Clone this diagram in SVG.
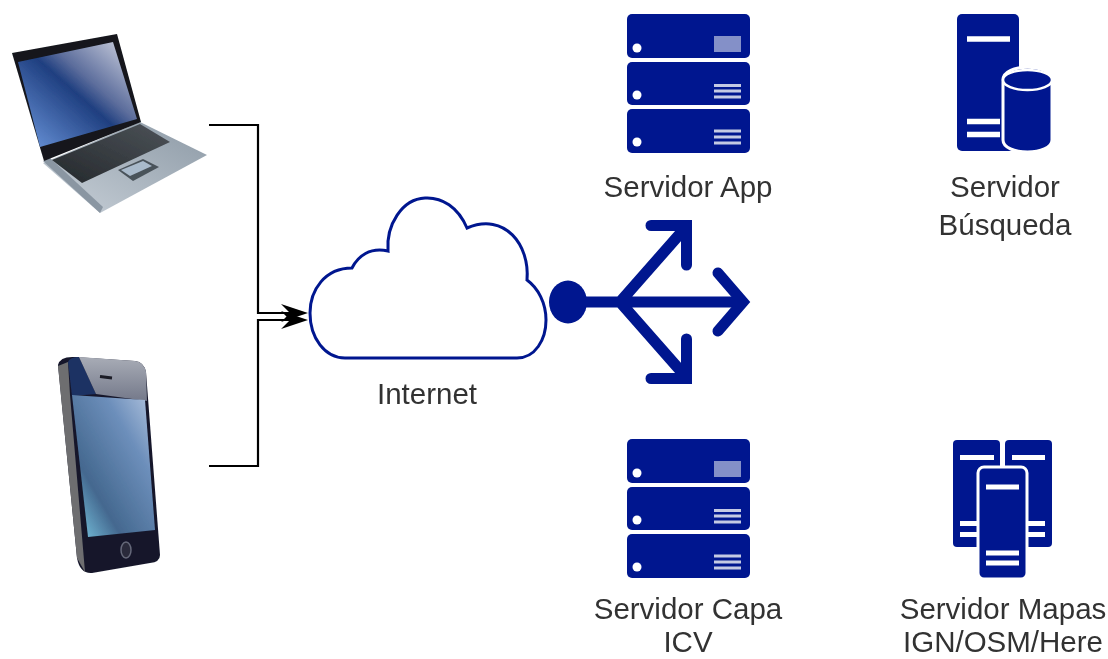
<svg xmlns="http://www.w3.org/2000/svg" width="1108" height="659" viewBox="0 0 1108 659">
<style>
.b{fill:#00188f}
.w{fill:#fff}
.ol{stroke:#fff;stroke-width:3}
text{font-family:"Liberation Sans",Arial,sans-serif;font-size:29.500px;fill:#333;text-anchor:middle}
.c{fill:none;stroke:#000;stroke-width:2.200}
</style>
<defs>
<linearGradient id="scr" x1="0" y1="1" x2="1" y2="0"><stop offset="0" stop-color="#6f9ae0"/><stop offset=".5" stop-color="#1f3f80"/><stop offset=".62" stop-color="#5c6d9c"/><stop offset="1" stop-color="#d8dbe6"/></linearGradient>
<linearGradient id="base" x1="0" y1="1" x2="1" y2="0"><stop offset="0" stop-color="#c8d0d8"/><stop offset="1" stop-color="#8d9aa6"/></linearGradient>
<linearGradient id="kb" x1="0" y1="1" x2="1" y2="0"><stop offset="0" stop-color="#24282c"/><stop offset="1" stop-color="#4c5258"/></linearGradient>
<linearGradient id="ph" x1="0" y1="1" x2="1" y2="0"><stop offset="0" stop-color="#7fd0ea"/><stop offset=".3" stop-color="#44688f"/><stop offset=".7" stop-color="#6d8fbb"/><stop offset="1" stop-color="#b4c6e0"/></linearGradient>
<linearGradient id="gl" x1="0" y1="0" x2="0" y2="1"><stop offset="0" stop-color="#a8acb6"/><stop offset="1" stop-color="#74798a"/></linearGradient>
<filter id="soft" filterUnits="userSpaceOnUse" x="0" y="0" width="1108" height="659"><feGaussianBlur stdDeviation=".55"/></filter>
<filter id="sb" x="-5%" y="-5%" width="110%" height="110%"><feGaussianBlur stdDeviation=".7"/></filter>
<g id="srv">
<rect class="b" x="627" y="14" width="123" height="44" rx="5"/>
<rect class="b" x="627" y="62" width="123" height="43" rx="5"/>
<rect class="b" x="627" y="109" width="123" height="44" rx="5"/>
<circle class="w" cx="637" cy="48" r="4.500"/><circle class="w" cx="637" cy="95" r="4.500"/><circle class="w" cx="637" cy="142" r="4.500"/>
<rect x="714" y="36" width="27" height="16" fill="#8490c8"/>
<path d="M714 85.500h27M714 91h27M714 97h27M714 131h27M714 137h27M714 143h27" stroke="#c4cae4" stroke-width="3"/>
</g>
</defs>

<g filter="url(#soft)">
<g id="connectors">
<path class="c" d="M209 125H258V313H296"/>
<path class="c" d="M209 466H258V320H296"/>
<path d="M281 304L308 313L281 322L290 313Z"/>
<path d="M281 311L308 320L281 329L290 320Z"/>
</g>

<g id="laptop" filter="url(#sb)">
<path d="M43 163L100 213L207 155L140 122Z" fill="url(#base)"/>
<path d="M43 161L100 213L103 207L50 158Z" fill="#8a96a2"/>
<path d="M12 53L117 34L141 122L44 161Z" fill="#14161c"/>
<path d="M18 62L113 42L137 119L40 147Z" fill="url(#scr)"/>
<path d="M52 160L140 124L170 142L82 183Z" fill="url(#kb)"/>
<path d="M118 170L143 159L159 167L133 181Z" fill="#4a525a"/>
<path d="M121 170L143 161L152 166L130 176Z" fill="#a9bacb"/>
</g>

<g id="phone" filter="url(#sb)">
<path d="M58 365Q60 356 75 357L135 361Q144 362 146 372L160 555Q160 562 150 563L92 573Q80 574 77 558Z" fill="#16182c"/>
<path d="M58 366L77 558L85 572L70 395L68 362Z" fill="#6e6e70"/>
<path d="M68 362Q70 357 79 357L96 394L72 396Z" fill="#1f3264"/>
<path d="M79 357L135 361Q144 362 146 372L147 401L96 394Z" fill="url(#gl)"/>
<path d="M72 395L145 400L155 530L88 537Z" fill="url(#ph)"/>
<path d="M100 376.500L112 378" stroke="#1a1c26" stroke-width="3"/>
<ellipse cx="126" cy="550" rx="5" ry="8" fill="#2a2c3a" stroke="#66687a" stroke-width="1.500"/>
</g>

<g id="cloud">
<path d="M345 358H517C535 358 546 340 546 320C546 303 538 288 527 280C530 245 505 212 467 228C458 207 442 197 425 198C402 199 386 225 388 251C370 247 358 256 352 268C325 268 310 290 310 313C310 338 325 358 345 358Z" fill="#fff" stroke="#00188f" stroke-width="3"/>
<text x="427" y="404">Internet</text>
</g>

<g id="fanout">
<ellipse class="b" cx="568" cy="302" rx="19" ry="21.500"/>
<path d="M580 302H738M620 302L686 227M620 302L686 377" fill="none" stroke="#00188f" stroke-width="11"/>
<path d="M651 225.500H686.500V265M651 378.500H686.500V339M718 273L743 302L718 331" fill="none" stroke="#00188f" stroke-width="11" stroke-linecap="round"/>
</g>

<g id="servidor-app">
<use href="#srv"/>
<text x="688" y="197">Servidor App</text>
</g>

<g id="servidor-capa">
<use href="#srv" y="425"/>
<text x="688" y="619">Servidor Capa</text>
<text x="688" y="652">ICV</text>
</g>

<g id="servidor-busqueda">
<rect class="b" x="957" y="14" width="62" height="137" rx="5"/>
<path d="M967 39H1010M967 121.500H1000M967 134.500H1000" stroke="#fff" stroke-width="5.500"/>
<path class="b" d="M1003 80C1003 63 1052 63 1052 80V140C1052 156 1003 156 1003 140Z" stroke="#fff" stroke-width="3"/>
<ellipse class="b" cx="1027.500" cy="80" rx="24.500" ry="10" stroke="#fff" stroke-width="2.500"/>
<text x="1005" y="197">Servidor</text>
<text x="1005" y="235">Búsqueda</text>
</g>

<g id="servidor-mapas">
<rect class="b" x="953" y="440" width="47" height="107" rx="4"/>
<rect class="b" x="1005" y="440" width="47" height="107" rx="4"/>
<path d="M960 457.500H994M1012 457.500H1045M960 523.500H985M960 534.500H985M1020 523.500H1045M1020 534.500H1045" stroke="#fff" stroke-width="5"/>
<rect class="b ol" x="978" y="467" width="49" height="112" rx="6"/>
<path d="M986 487H1019M986 553H1019M986 563H1019" stroke="#fff" stroke-width="5"/>
<text x="1003" y="619">Servidor Mapas</text>
<text x="1003" y="652">IGN/OSM/Here</text>
</g>
</g>
</svg>
